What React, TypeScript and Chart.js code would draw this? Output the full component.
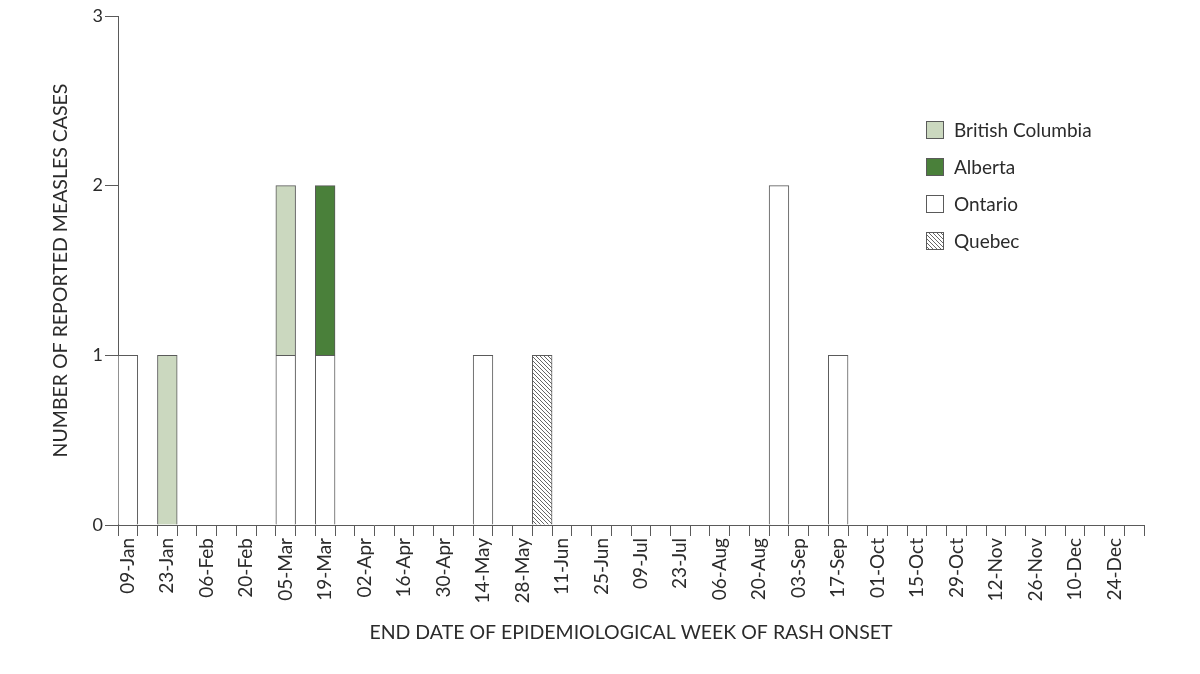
import React, { useEffect, useRef } from "react";
import { Chart, registerables } from "chart.js";
Chart.register(...registerables);

const weekEndDates = [
  "09-Jan", "16-Jan", "23-Jan", "30-Jan", "06-Feb", "13-Feb", "20-Feb", "27-Feb",
  "05-Mar", "12-Mar", "19-Mar", "26-Mar", "02-Apr", "09-Apr", "16-Apr", "23-Apr",
  "30-Apr", "07-May", "14-May", "21-May", "28-May", "04-Jun", "11-Jun", "18-Jun",
  "25-Jun", "02-Jul", "09-Jul", "16-Jul", "23-Jul", "30-Jul", "06-Aug", "13-Aug",
  "20-Aug", "27-Aug", "03-Sep", "10-Sep", "17-Sep", "24-Sep", "01-Oct", "08-Oct",
  "15-Oct", "22-Oct", "29-Oct", "05-Nov", "12-Nov", "19-Nov", "26-Nov", "03-Dec",
  "10-Dec", "17-Dec", "24-Dec", "31-Dec",
];

// cases per week (index aligned with weekEndDates)
const ontarioCases = [
  1, 0, 0, 0, 0, 0, 0, 0, 1, 0, 1, 0, 0, 0, 0, 0,
  0, 0, 1, 0, 0, 0, 0, 0, 0, 0, 0, 0, 0, 0, 0, 0,
  0, 2, 0, 0, 1, 0, 0, 0, 0, 0, 0, 0, 0, 0, 0, 0,
  0, 0, 0, 0,
];
const quebecCases = [
  0, 0, 0, 0, 0, 0, 0, 0, 0, 0, 0, 0, 0, 0, 0, 0,
  0, 0, 0, 0, 0, 1, 0, 0, 0, 0, 0, 0, 0, 0, 0, 0,
  0, 0, 0, 0, 0, 0, 0, 0, 0, 0, 0, 0, 0, 0, 0, 0,
  0, 0, 0, 0,
];
const britishColumbiaCases = [
  0, 0, 1, 0, 0, 0, 0, 0, 1, 0, 0, 0, 0, 0, 0, 0,
  0, 0, 0, 0, 0, 0, 0, 0, 0, 0, 0, 0, 0, 0, 0, 0,
  0, 0, 0, 0, 0, 0, 0, 0, 0, 0, 0, 0, 0, 0, 0, 0,
  0, 0, 0, 0,
];
const albertaCases = [
  0, 0, 0, 0, 0, 0, 0, 0, 0, 0, 1, 0, 0, 0, 0, 0,
  0, 0, 0, 0, 0, 0, 0, 0, 0, 0, 0, 0, 0, 0, 0, 0,
  0, 0, 0, 0, 0, 0, 0, 0, 0, 0, 0, 0, 0, 0, 0, 0,
  0, 0, 0, 0,
];

const yTicks = [0, 1, 2, 3];
const legendOrder = ["British Columbia", "Alberta", "Ontario", "Quebec"];

const FONT = "Lato, 'Open Sans', sans-serif";
const LINE = "#5a5a5a";
const TEXT = "#2b2b2b";

function makeHatch(): CanvasPattern | string {
  const c = document.createElement("canvas");
  c.width = 4;
  c.height = 4;
  const g = c.getContext("2d");
  if (!g) return "#ffffff";
  g.fillStyle = "#ffffff";
  g.fillRect(0, 0, 4, 4);
  g.strokeStyle = "#555555";
  g.lineWidth = 0.9;
  g.beginPath();
  g.moveTo(-1, -1);
  g.lineTo(5, 5);
  g.moveTo(-1, 3);
  g.lineTo(1, 5);
  g.moveTo(3, -1);
  g.lineTo(5, 1);
  g.stroke();
  return g.createPattern(c, "repeat") || "#ffffff";
}

const legendPlugin = {
  id: "customLegend",
  afterDraw(chart: any) {
    const ctx = chart.ctx;
    ctx.save();
    const x0 = 926;
    let y = 130;
    for (const name of legendOrder) {
      const ds = chart.data.datasets.find((d: any) => d.label === name);
      if (!ds) continue;
      ctx.fillStyle = ds.backgroundColor;
      ctx.fillRect(x0, y - 9, 18, 18);
      ctx.strokeStyle = LINE;
      ctx.lineWidth = 1;
      ctx.strokeRect(x0 + 0.5, y - 8.5, 17, 17);
      ctx.fillStyle = TEXT;
      ctx.font = `19px ${FONT}`;
      ctx.textAlign = "left";
      ctx.textBaseline = "middle";
      ctx.fillText(name, 954, y + 1);
      y += 37;
    }
    ctx.restore();
  },
};

export default function App() {
  const ref = useRef<HTMLCanvasElement | null>(null);
  useEffect(() => {
    if (!ref.current) return;
    const hatch = makeHatch();
    const common = {
      borderColor: LINE,
      borderWidth: 1,
      borderSkipped: "bottom",
      barPercentage: 1,
      categoryPercentage: 1,
      stack: "cases",
    };
    const chart = new Chart(ref.current, {
      type: "bar",
      data: {
        labels: weekEndDates,
        datasets: [
          { label: "Ontario", data: ontarioCases, backgroundColor: "#ffffff", ...common },
          { label: "Quebec", data: quebecCases, backgroundColor: hatch as any, ...common },
          { label: "British Columbia", data: britishColumbiaCases, backgroundColor: "#cbd8bf", ...common },
          { label: "Alberta", data: albertaCases, backgroundColor: "#4a803a", ...common },
        ] as any,
      },
      options: {
        animation: false,
        responsive: false,
        maintainAspectRatio: false,
        layout: { padding: { top: 16, right: 56, bottom: 0, left: 0 } },
        plugins: {
          legend: { display: false },
          tooltip: { enabled: false },
        },
        scales: {
          x: {
            stacked: true,
            offset: true,
            grid: {
              offset: true,
              drawOnChartArea: false,
              drawTicks: true,
              tickLength: 11,
              color: LINE,
            },
            border: { display: true, color: LINE, width: 1 },
            ticks: {
              autoSkip: false,
              maxRotation: 90,
              minRotation: 90,
              padding: 2,
              color: TEXT,
              font: { family: FONT, size: 19 },
              callback: (_v: any, i: number) => (i % 2 === 0 ? weekEndDates[i] : ""),
            },
            title: {
              display: true,
              text: "END DATE OF EPIDEMIOLOGICAL WEEK OF RASH ONSET",
              color: TEXT,
              font: { family: FONT, size: 19.5 },
              padding: { top: 0, bottom: 30 },
            },
            afterFit: (s: any) => {
              s.height = 149;
            },
          },
          y: {
            stacked: true,
            min: 0,
            max: 3,
            afterBuildTicks: (s: any) => {
              s.ticks = yTicks.map((v) => ({ value: v }));
            },
            grid: {
              drawOnChartArea: false,
              drawTicks: true,
              tickLength: 13,
              color: LINE,
            },
            border: { display: true, color: LINE, width: 1 },
            ticks: {
              padding: 2,
              color: TEXT,
              font: { family: FONT, size: 18 },
            },
            title: {
              display: true,
              text: "NUMBER OF REPORTED MEASLES CASES",
              color: TEXT,
              font: { family: FONT, size: 19.5 },
              padding: { top: 49, bottom: 0 },
            },
            afterFit: (s: any) => {
              s.width = 118;
            },
          },
        },
      } as any,
      plugins: [legendPlugin],
    });
    return () => chart.destroy();
  }, []);
  return (
    <div style={{ position: "absolute", left: 0, top: 0, width: 1200, height: 674, background: "#fff" }}>
      <canvas ref={ref} width={1200} height={674} style={{ display: "block" }} />
    </div>
  );
}
